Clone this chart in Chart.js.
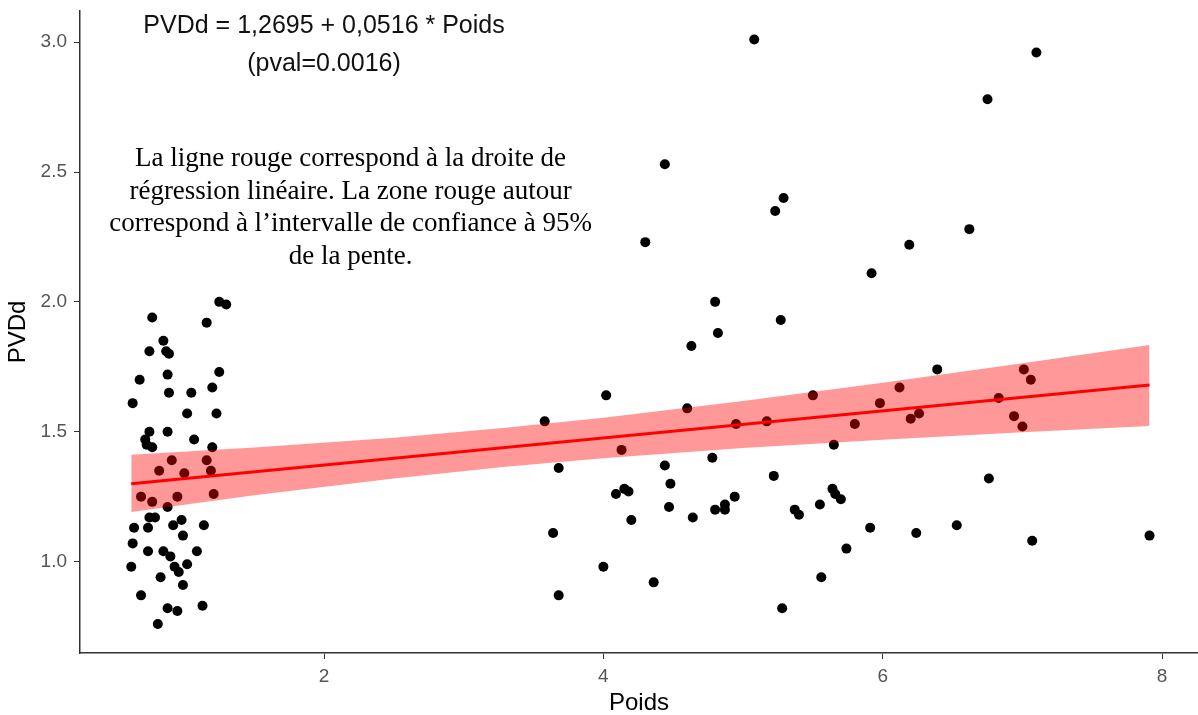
<!DOCTYPE html>
<html>
<head>
<meta charset="utf-8">
<script src="https://cdn.jsdelivr.net/npm/chart.js@4.4.0/dist/chart.umd.min.js"></script>
<style>
body{margin:0;background:#fff;}
</style>
</head>
<body>
<canvas id="regChart" width="1198" height="715"></canvas>
<script>
// nuage de points : Poids / PVDd
var poids = [1.25,1.30,0.77,1.16,0.85,0.75,0.87,0.89,1.25,0.88,0.68,1.20,0.89,1.05,0.63,1.02,1.23,0.75,0.88,0.72,
	0.73,0.77,1.07,1.20,0.91,1.16,0.82,1.00,1.19,0.69,0.77,0.95,1.21,0.88,0.75,0.79,0.74,0.64,0.92,0.98,
	1.14,0.99,0.63,0.74,0.85,0.90,1.09,0.62,0.93,0.96,1.02,0.83,0.99,0.69,0.88,0.95,1.13,0.81,
	4.44,5.29,5.23,4.30,4.80,5.27,4.82,4.63,4.02,5.50,3.58,4.60,4.95,5.17,4.13,5.65,3.68,4.44,4.78,4.48,
	5.22,4.09,4.15,4.18,5.64,5.66,5.70,4.47,4.94,4.80,4.87,4.87,4.64,4.20,5.37,5.40,5.55,3.64,4.00,4.36,
	3.68,5.28,5.56,7.10,6.75,6.62,6.19,5.92,5.08,6.39,7.01,7.06,6.12,5.98,6.83,5.80,6.20,6.26,6.94,7.00,
	6.76,5.91,6.24,6.53,5.74,7.07,7.91];
var pvdd = [2.00,1.99,1.94,1.92,1.85,1.81,1.81,1.80,1.73,1.72,1.70,1.67,1.65,1.65,1.61,1.57,1.57,1.50,1.50,1.47,
	1.45,1.44,1.47,1.44,1.39,1.39,1.35,1.34,1.35,1.25,1.23,1.25,1.26,1.21,1.17,1.17,1.13,1.13,1.14,1.16,
	1.14,1.10,1.07,1.04,1.04,1.02,1.04,0.98,0.98,0.96,0.99,0.94,0.91,0.87,0.82,0.81,0.83,0.76,
	2.53,2.40,2.35,2.23,2.00,1.93,1.88,1.83,1.64,1.64,1.54,1.59,1.53,1.54,1.43,1.45,1.36,1.37,1.40,1.30,
	1.33,1.26,1.28,1.27,1.28,1.26,1.24,1.21,1.25,1.20,1.22,1.20,1.17,1.16,1.20,1.18,1.22,1.11,0.98,0.92,
	0.87,0.82,0.94,2.96,2.78,2.28,2.22,2.11,3.01,1.74,1.74,1.70,1.67,1.61,1.63,1.53,1.55,1.57,1.56,1.52,
	1.32,1.13,1.11,1.14,1.05,1.08,1.10];
// droite de regression
var regX = [0.62, 7.91];
var regY = [1.30, 1.68];
// intervalle de confiance 95%
var bandX = [0.62, 1.5, 2.5, 3.3, 4.0, 5.0, 6.0, 7.0, 7.91];
var bandHaut = [1.411, 1.439, 1.477, 1.515, 1.554, 1.618, 1.689, 1.764, 1.834];
var bandBas = [1.191, 1.255, 1.320, 1.365, 1.398, 1.437, 1.469, 1.498, 1.522];
// graduations
var xTicks = [2, 4, 6, 8];
var yTicks = [1.0, 1.5, 2.0, 2.5, 3.0];
// textes
var equation = ["PVDd = 1,2695 + 0,0516 * Poids", "(pval=0.0016)"];
var note = ["La ligne rouge correspond à la droite de",
	"régression linéaire. La zone rouge autour",
	"correspond à l\u2019intervalle de confiance à 95%",
	"de la pente."];

var sansFont = '"Liberation Sans", Arial, sans-serif';

function toXY(xs, ys){
	var out = [];
	for(var i=0;i<xs.length;i++){
		out.push({x: xs[i], y: ys[i]});
	}
	return out;
}

//pas de marge automatique autour des axes
function noPad(scale){
	scale.paddingTop = 0;
	scale.paddingBottom = 0;
	scale.paddingLeft = 0;
	scale.paddingRight = 0;
}

//fond blanc + textes
var notePlugin = {
	id: 'notes',
	beforeDraw: function(chart){
		var ctx = chart.ctx;
		ctx.save();
		ctx.fillStyle = '#fff';
		ctx.fillRect(0, 0, chart.width, chart.height);
		ctx.restore();
	},
	afterDraw: function(chart){
		var ctx = chart.ctx;
		var xs = chart.scales.x, ys = chart.scales.y;
		ctx.save();
		ctx.fillStyle = '#111';
		ctx.textAlign = 'center';
		ctx.textBaseline = 'middle';
		ctx.font = '25px ' + sansFont;
		ctx.fillText(equation[0], xs.getPixelForValue(2.0), ys.getPixelForValue(3.062));
		ctx.fillText(equation[1], xs.getPixelForValue(2.0), ys.getPixelForValue(2.915));
		ctx.fillStyle = '#000';
		ctx.font = '27px "Liberation Serif", "Times New Roman", serif';
		var ny = [2.550, 2.423, 2.300, 2.173];
		for(var i=0;i<note.length;i++){
			ctx.fillText(note[i], xs.getPixelForValue(2.19), ys.getPixelForValue(ny[i]));
		}
		ctx.restore();
	}
};

var ctx = document.getElementById("regChart").getContext("2d");
var chart = new Chart(ctx, {
	type: 'scatter',
	data: {
		datasets: [
			{
				label: 'regression',
				data: toXY(regX, regY),
				showLine: true,
				borderColor: '#ff0000',
				borderWidth: 3,
				pointRadius: 0,
				order: 0
			},
			{
				label: 'ic haut',
				data: toXY(bandX, bandHaut),
				showLine: true,
				borderWidth: 0,
				borderColor: 'rgba(0,0,0,0)',
				backgroundColor: 'rgba(255,0,0,0.4)',
				fill: '+1',
				pointRadius: 0,
				order: 1
			},
			{
				label: 'ic bas',
				data: toXY(bandX, bandBas),
				showLine: true,
				borderWidth: 0,
				borderColor: 'rgba(0,0,0,0)',
				pointRadius: 0,
				fill: false,
				order: 1
			},
			{
				label: 'PVDd',
				data: toXY(poids, pvdd),
				pointRadius: 5,
				pointBackgroundColor: '#000',
				pointBorderWidth: 0,
				order: 2
			}
		]
	},
	options: {
		responsive: false,
		animation: false,
		devicePixelRatio: 1,
		layout: {autoPadding: false, padding: {top: 11, right: 0, left: 0, bottom: 0}},
		plugins: {
			legend: {display: false},
			tooltip: {enabled: false}
		},
		scales: {
			x: {
				type: 'linear',
				min: 0.253,
				max: 8.257,
				afterBuildTicks: function(scale){
					scale.ticks = xTicks.map(function(v){ return {value: v}; });
				},
				afterFit: function(scale){ scale.height = 62; noPad(scale); },
				grid: {display: true, drawOnChartArea: false, drawTicks: true, tickLength: 6, color: '#333'},
				border: {display: true, color: '#333', width: 1.5},
				ticks: {color: '#555', padding: 6, font: {family: sansFont, size: 19}},
				title: {display: true, text: 'Poids', color: '#000', padding: {top: 0, bottom: -3},
					font: {family: sansFont, size: 24}}
			},
			y: {
				type: 'linear',
				min: 0.648,
				max: 3.12,
				afterBuildTicks: function(scale){
					scale.ticks = yTicks.map(function(v){ return {value: v}; });
				},
				afterFit: function(scale){ scale.width = 80; noPad(scale); },
				grid: {display: true, drawOnChartArea: false, drawTicks: true, tickLength: 6, color: '#333'},
				border: {display: true, color: '#333', width: 1.5},
				ticks: {color: '#555', padding: 7, font: {family: sansFont, size: 19},
					callback: function(v){ return Number(v).toFixed(1); }},
				title: {display: true, text: 'PVDd', color: '#000', padding: {top: 4, bottom: 0},
					font: {family: sansFont, size: 24}}
			}
		}
	},
	plugins: [notePlugin]
});
</script>
</body>
</html>
